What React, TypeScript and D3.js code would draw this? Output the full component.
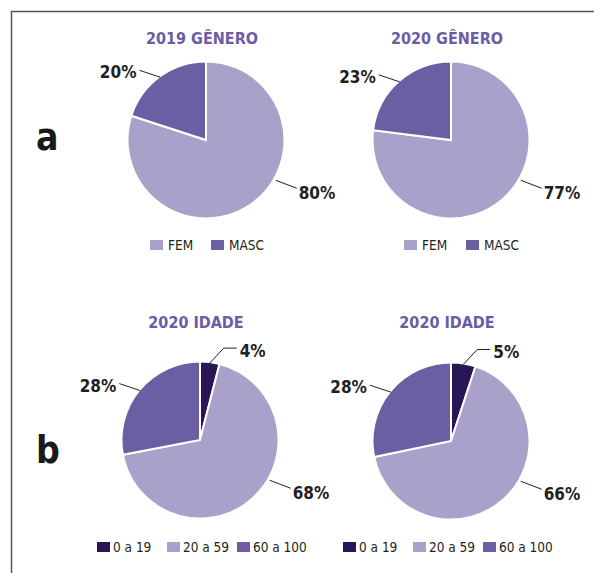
import * as d3 from "d3";

// Data
const generoCats = ["FEM", "MASC"];
const genero2019 = [80, 20];
const genero2020 = [77, 23];
const idadeCats = ["0 a 19", "20 a 59", "60 a 100"];
const idade2020a = [4, 68, 28];
const idade2020b = [5, 66, 28];
const titles = ["2019 GÊNERO", "2020 GÊNERO", "2020 IDADE", "2020 IDADE"];
const panelLetters = ["a", "b"];

const FONT = "'DejaVu Sans Condensed', 'Liberation Sans Narrow', 'DejaVu Sans', sans-serif";
const TITLE_COLOR = "#6b5ca5";
const LABEL_COLOR = "#231f20";

const generoColor = d3
  .scaleOrdinal<string, string>()
  .domain(generoCats)
  .range(["#a9a1c9", "#6c5ea3"]);
const idadeColor = d3
  .scaleOrdinal<string, string>()
  .domain(idadeCats)
  .range(["#2a1656", "#a9a1c9", "#6c5ea3"]);

interface PieProps {
  cx: number;
  cy: number;
  values: number[];
  cats: string[];
  color: d3.ScaleOrdinal<string, string>;
  title: string;
  titleY: number;
  legendY: number;
  legendStart: number;
  legendStep: number;
  legendGap: number;
}

function PieChart({
  cx,
  cy,
  values,
  cats,
  color,
  title,
  titleY,
  legendY,
  legendStart,
  legendStep,
  legendGap,
}: PieProps) {
  const r = 78.5;
  const arcs = d3
    .pie<number>()
    .sort(null)
    .value((d) => d)(values);
  const arc = d3.arc<d3.PieArcDatum<number>>().innerRadius(0).outerRadius(r);
  const total = d3.sum(values);

  // point on a circle, angle measured clockwise from 12 o'clock
  const polar = (a: number, rad: number): [number, number] => [
    Math.sin(a) * rad,
    -Math.cos(a) * rad,
  ];

  return (
    <g>
      <text
        x={cx - 4}
        y={titleY}
        textAnchor="middle"
        fontFamily={FONT}
        fontWeight="bold"
        fontSize={16}
        fill={TITLE_COLOR}
      >
        {title}
      </text>
      <g transform={`translate(${cx},${cy})`}>
        {arcs.map((d, i) => (
          <path
            key={i}
            d={arc(d) || ""}
            fill={color(cats[i])}
            stroke="#fff"
            strokeWidth={2}
          />
        ))}
        {arcs.map((d, i) => {
          const share = d.value / total;
          const mid = (d.startAngle + d.endAngle) / 2;
          const label = `${d.value}%`;
          const textProps = {
            fontFamily: FONT,
            fontWeight: "bold" as const,
            fontSize: 17,
            fill: LABEL_COLOR,
          };
          if (share < 0.1) {
            // tiny slice: elbow leader up and to the right
            const [x0, y0] = polar(mid, r - 1);
            const x1 = x0 + 14;
            const y1 = y0 - 15;
            const x2 = x1 + 13;
            return (
              <g key={`l${i}`}>
                <polyline
                  points={`${x0},${y0} ${x1},${y1} ${x2},${y1}`}
                  fill="none"
                  stroke="#231f20"
                  strokeWidth={1}
                />
                <text x={x2 + 3} y={y1 + 9} {...textProps}>
                  {label}
                </text>
              </g>
            );
          }
          if (share > 0.5) {
            // big slice: callout to the lower right
            const [x0, y0] = polar((2 * Math.PI) / 3, r + 2);
            const x1 = x0 + 21;
            const y1 = y0 + 8;
            return (
              <g key={`l${i}`}>
                <line x1={x0} y1={y0} x2={x1} y2={y1} stroke="#231f20" strokeWidth={1} />
                <text x={x1 + 2} y={y1 + 11} {...textProps}>
                  {label}
                </text>
              </g>
            );
          }
          const [x0, y0] = polar(mid, r - 1);
          const x1 = x0 - 21;
          const y1 = y0 - 7;
          return (
            <g key={`l${i}`}>
              <line x1={x0} y1={y0} x2={x1} y2={y1} stroke="#231f20" strokeWidth={1} />
              <text x={x1 - 3} y={y1 + 8} textAnchor="end" {...textProps}>
                {label}
              </text>
            </g>
          );
        })}
      </g>
      <g transform={`translate(${cx + legendStart},${legendY})`}>
        {cats.map((c, i) => (
          <g key={c} transform={`translate(${i * legendStep},0)`}>
            <rect width={13} height={10} fill={color(c)} />
            <text
              x={13 + legendGap}
              y={10}
              fontFamily={FONT}
              fontSize={13.5}
              fill={LABEL_COLOR}
            >
              {c}
            </text>
          </g>
        ))}
      </g>
    </g>
  );
}

export default function App() {
  return (
    <div style={{ position: "fixed", left: 0, top: 0, background: "#fff" }}>
      <svg width={594} height={573} style={{ display: "block" }}>
        <rect width={594} height={573} fill="#fff" />
        <path d="M11.5,573 V11.5 H594" fill="none" stroke="#555" strokeWidth={1.5} />
        <text x={36} y={150} fontFamily={FONT} fontWeight="bold" fontSize={37} fill="#1a1a1a">
          {panelLetters[0]}
        </text>
        <text x={36} y={463} fontFamily={FONT} fontWeight="bold" fontSize={37} fill="#1a1a1a">
          {panelLetters[1]}
        </text>
        <PieChart
          cx={206}
          cy={140}
          values={genero2019}
          cats={generoCats}
          color={generoColor}
          title={titles[0]}
          titleY={44}
          legendY={240}
          legendStart={-56}
          legendStep={61}
          legendGap={5}
        />
        <PieChart
          cx={451}
          cy={140}
          values={genero2020}
          cats={generoCats}
          color={generoColor}
          title={titles[1]}
          titleY={44}
          legendY={240}
          legendStart={-47}
          legendStep={62}
          legendGap={5}
        />
        <PieChart
          cx={200}
          cy={440}
          values={idade2020a}
          cats={idadeCats}
          color={idadeColor}
          title={titles[2]}
          titleY={328}
          legendY={542}
          legendStart={-103}
          legendStep={70}
          legendGap={3}
        />
        <PieChart
          cx={451}
          cy={441}
          values={idade2020b}
          cats={idadeCats}
          color={idadeColor}
          title={titles[3]}
          titleY={328}
          legendY={542}
          legendStart={-108}
          legendStep={70}
          legendGap={3}
        />
      </svg>
    </div>
  );
}
